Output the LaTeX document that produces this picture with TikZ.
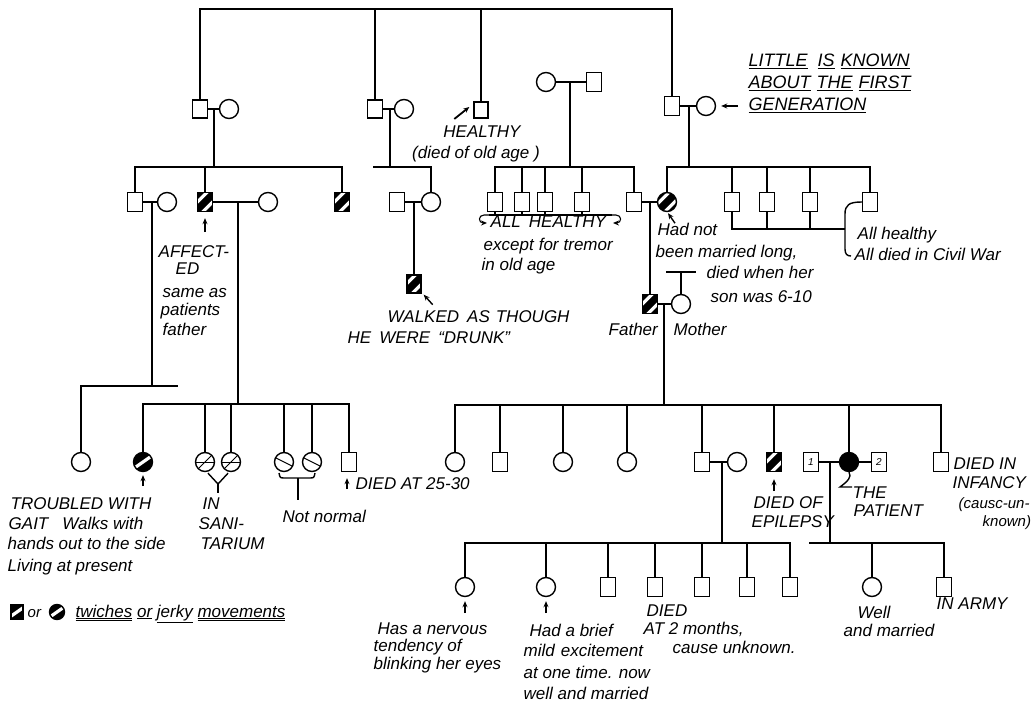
\documentclass[tikz,border=0pt]{standalone}
\usepackage{fontspec}
\setmainfont{Liberation Sans}
\usetikzlibrary{arrows.meta,calc}
\newcommand{\lab}{\fontsize{17}{20}\selectfont\itshape}
\newcommand{\labs}{\fontsize{15}{18}\selectfont\itshape}
\newcommand{\labn}{\fontsize{10}{10}\selectfont\itshape}
\begin{document}
\begin{tikzpicture}[x=1pt,y=-1pt,line width=1.4pt,
 sq/.style={draw,rectangle,inner sep=0pt,minimum width=15pt,minimum height=19pt},
 ci/.style={draw,circle,inner sep=0pt,minimum size=19pt},
 st2/.style={path picture={
  \fill[black] (path picture bounding box.south west) rectangle (path picture bounding box.north east);
  \draw[white,line width=3.2pt] ([shift={(3.8pt,-3.8pt)}]path picture bounding box.center) ++(-20pt,-20pt) -- ++(40pt,40pt);
  \draw[white,line width=3.2pt] ([shift={(-3.8pt,3.8pt)}]path picture bounding box.center) ++(-20pt,-20pt) -- ++(40pt,40pt);}},
 st1/.style={path picture={
  \fill[black] (path picture bounding box.south west) rectangle (path picture bounding box.north east);
  \draw[white,line width=3.2pt] (path picture bounding box.center) ++(-20pt,-14pt) -- ++(40pt,28pt);}},
 sani/.style={ci,path picture={
  \draw[line width=1pt] (path picture bounding box.west) -- (path picture bounding box.east);
  \draw[line width=1pt] (path picture bounding box.center) ++(-8pt,-8pt) -- ++(16pt,16pt);}},
 nn/.style={ci,path picture={
  \draw[line width=1.1pt] (path picture bounding box.center) ++(-10pt,5pt) -- ++(20pt,-10pt);}},
 arr/.style={-{Stealth[length=6pt,width=5pt]}},
 lb/.style={anchor=base west,inner sep=0pt,font=\lab},
 lbc/.style={anchor=base,inner sep=0pt,font=\lab},
]
\useasboundingbox[fill=white] (0,0) rectangle (1031,703);

% ---------- generation 2 ----------
\node[sq,minimum height=18pt] (A1) at (200,109) {};
\node[ci] (A2) at (229,109) {};
\node[sq,minimum height=18pt] (B1) at (375,109) {};
\node[ci] (B2) at (404,109) {};
\node[sq,minimum width=14pt,minimum height=16pt] (H) at (481,110) {};
\node[ci] (D1) at (546,82) {};
\node[sq] (D2) at (594,82) {};
\node[sq] (E1) at (672,106) {};
\node[ci] (E2) at (706,106) {};

\coordinate (T) at (0,9);
\draw (A1.north) |- (E1.north |- T) -- (E1.north);
\draw (B1.north) -- (B1.north |- T);
\draw (H.north) -- (H.north |- T);

\draw (A1) -- (A2);
\draw (B1) -- (B2);
\draw (D1) -- (D2);
\draw (E1) -- (E2);
\coordinate (mA) at (214,109);
\coordinate (mB) at (390,109);
\coordinate (mD) at (570,82);
\coordinate (mE) at (689,106);

% ---------- generation 3 ----------
\coordinate (S3) at (0,167);
\node[sq] (C1) at (135,202) {};
\node[ci] (C2) at (167,202) {};
\node[sq,st2] (C3) at (205,202) {};
\node[ci] (C4) at (268,202) {};
\node[sq,st2] (C5) at (342,202) {};
\draw (C1.north) |- (C5.north |- S3) -- (C5.north);
\draw (C3.north) -- (C3.north |- S3);
\draw (mA) -- (mA |- S3);
\draw (C1) -- (C2);
\draw (C3) -- (C4);

\node[sq] (G1) at (397,202) {};
\node[ci] (G2) at (431,202) {};
\coordinate (sBl) at (373,167);
\draw (sBl) -- (G2.north |- S3) -- (G2.north);
\draw (mB) -- (mB |- S3);
\draw (G1) -- (G2);

\node[sq] (K1) at (495,202) {};
\node[sq] (K2) at (522,202) {};
\node[sq] (K3) at (545,202) {};
\node[sq] (K4) at (582,202) {};
\node[sq] (K5) at (634,202) {};
\node[ci,st2] (P) at (667,202) {};
\draw (K1.north) |- (K5.north |- S3) -- (K5.north);
\foreach \k in {K2,K3,K4} \draw (\k.north) -- (\k.north |- S3);
\draw (mD) -- (mD |- S3);
\draw (K5) -- (P);

\node[sq] (R1) at (732,202) {};
\node[sq] (R2) at (767,202) {};
\node[sq] (R3) at (810,202) {};
\node[sq] (R4) at (870,202) {};
\draw (P.north) |- (R4.north |- S3) -- (R4.north);
\foreach \k in {R1,R2,R3} \draw (\k.north) -- (\k.north |- S3);
\draw (mE) -- (mE |- S3);

% ALL HEALTHY bracket
\coordinate (bAH) at (0,215);
\foreach \k in {K1,K2,K3,K4} \draw (\k.south) -- (\k.south |- bAH);
\coordinate (ahL) at (489,215);
\coordinate (ahR) at (612,215);
\draw (ahL) -- (ahR);
\draw[arr,line width=1.1pt] (ahL) -- (484,215) .. controls (478,215) and (478,223) .. (487,223);
\draw[arr,line width=1.1pt] (ahR) -- (616,215) .. controls (622,215) and (622,223) .. (613,223);

% brace under right brothers
\coordinate (bRe) at (845,229);
\draw (R1.south) |- (bRe);
\draw (R2.south) -- (R2.south |- bRe);
\draw (R3.south) -- (R3.south |- bRe);
\draw (bRe) -- (845,214) .. controls (845,205) and (849,202) .. (R4.west);
\draw (bRe) -- (845,249) .. controls (845,254) and (847,256) .. (851,256);

% walked as though drunk
\coordinate (mG) at (414,202);
\node[sq,st2,minimum width=14pt,minimum height=18pt] (W) at (414,284) {};
\draw (mG) -- (W.north);

% father / mother
\coordinate (mKP) at (650,202);
\node[sq,st2] (Fa) at (650,304) {};
\node[ci] (Mo) at (681,304) {};
\draw (mKP) -- (Fa.north);
\draw (Fa) -- (Mo);
\coordinate (tL) at (666,272);
\coordinate (tR) at (696,272);
\draw (tL) -- (tR);
\draw (Mo.north) -- (Mo.north |- tL);
\coordinate (mF) at (664,304);

% ---------- generation 4 (left) ----------
\coordinate (mC12) at (152,202);
\coordinate (mC34) at (238,202);
\coordinate (S4a) at (0,386);
\coordinate (S4aR) at (178,386);
\node[ci] (L1) at (81,462) {};
\draw (L1.north) |- (S4aR);
\draw (mC12) -- (mC12 |- S4a);
\coordinate (S4b) at (0,404);
\node[ci,st1] (L2) at (143,462) {};
\node[sani] (L3) at (205,462) {};
\node[sani] (L4) at (231,462) {};
\node[nn] (L5) at (284,462) {};
\node[nn] (L6) at (312,462) {};
\node[sq] (L7) at (349,462) {};
\draw (L2.north) |- (L7.north |- S4b) -- (L7.north);
\foreach \k in {L3,L4,L5,L6} \draw (\k.north) -- (\k.north |- S4b);
\draw (mC34) -- (mC34 |- S4b);

\coordinate (Yc) at (218,484);
\coordinate (Yb) at (218,493);
\draw ([shift={(3pt,-1pt)}]L3.south) -- (Yc) -- ([shift={(-3pt,-1pt)}]L4.south);
\draw (Yc) -- (Yb);
\coordinate (nnM) at (298,478);
\coordinate (nnB) at (298,500);
\draw (279,473) .. controls (280,478) .. (285,478) -- (309,478) .. controls (314,478) .. (315,473);
\draw (nnM) -- (nnB);

% ---------- generation 4 (right) ----------
\coordinate (S4c) at (0,405);
\node[ci] (M1) at (455,462) {};
\node[sq] (M2) at (500,462) {};
\node[ci] (M3) at (563,462) {};
\node[ci] (M4) at (627,462) {};
\node[sq] (M5) at (702,462) {};
\node[ci] (M6) at (737,462) {};
\node[sq,st2] (M7) at (774,462) {};
\node[sq,font=\labn] (N1) at (811,462) {1};
\node[ci,fill=black] (PT) at (849,462) {};
\node[sq,font=\labn] (N2) at (879,462) {2};
\node[sq] (M8) at (941,462) {};
\draw (M1.north) |- (M8.north |- S4c) -- (M8.north);
\foreach \k in {M2,M3,M4,M5,M7,PT} \draw (\k.north) -- (\k.north |- S4c);
\draw (mF) -- (mF |- S4c);
\draw (M5) -- (M6);
\draw (N1) -- (PT);
\draw (PT) -- (N2);
\coordinate (mM) at (722,462);
\coordinate (mN) at (830,462);
\draw (PT.south) .. controls (852,477) and (848,481) .. (840,487) -- (852,487);

% ---------- generation 5 ----------
\coordinate (S5) at (0,543);
\node[ci] (Q1) at (465,587) {};
\node[ci] (Q2) at (546,587) {};
\node[sq] (Q3) at (608,587) {};
\node[sq] (Q4) at (655,587) {};
\node[sq] (Q5) at (702,587) {};
\node[sq] (Q6) at (747,587) {};
\node[sq] (Q7) at (790,587) {};
\draw (Q1.north) |- (Q7.north |- S5) -- (Q7.north);
\foreach \k in {Q2,Q3,Q4,Q5,Q6} \draw (\k.north) -- (\k.north |- S5);
\draw (mM) -- (mM |- S5);
\coordinate (sVl) at (809,543);
\node[ci] (V1) at (872,587) {};
\node[sq] (V2) at (944,587) {};
\draw (sVl) -- (V2.north |- S5) -- (V2.north);
\draw (V1.north) -- (V1.north |- S5);
\draw (mN) -- (mN |- S5);

% ---------- arrows ----------
\draw[arr] ([yshift=-20pt]C3.south) -- ([yshift=-6pt]C3.south);
\draw[arr,line width=1.8pt] ([shift={(-19pt,-9pt)}]H.west) -- ([shift={(-4pt,3pt)}]H.west);
\draw[arr] ([shift={(11pt,-11pt)}]W.south east) -- ([shift={(2pt,-1pt)}]W.south east);
\draw[arr] ([shift={(8pt,-11pt)}]P.south) -- ([shift={(1pt,-1pt)}]P.south);
\draw[arr] ([xshift=22pt]E2.east) -- ([xshift=5pt]E2.east);
\draw[arr] ([yshift=-14pt]L2.south) -- ([yshift=-3pt]L2.south);
\draw[arr] ([shift={(-2pt,-17pt)}]L7.south) -- ([shift={(-2pt,-6pt)}]L7.south);
\draw[arr] ([yshift=-19pt]M7.south) -- ([yshift=-7pt]M7.south);
\draw[arr] ([yshift=-16pt]Q1.south) -- ([yshift=-4pt]Q1.south);
\draw[arr] ([yshift=-16pt]Q2.south) -- ([yshift=-4pt]Q2.south);

% ---------- texts ----------
\node[lb,font=\fontsize{18}{21}\selectfont\itshape] (t1) at (748,67) {\underline{LITTLE}\hspace{10pt}\underline{IS}\hspace{6pt}\underline{KNOWN}};
\node[lb,font=\fontsize{18}{21}\selectfont\itshape] (t2) at (748,89) {\underline{ABOUT}\hspace{6pt}\underline{THE}\hspace{6pt}\underline{FIRST}};
\node[lb,font=\fontsize{18}{21}\selectfont\itshape] (t3) at (748,111) {\underline{GENERATION}};
\node[lbc] (t4) at (482,138) {HEALTHY};
\node[lbc] (t5) at (476,159) {(died of old age )};
\node[lb] (t6) at (158,258) {AFFECT-};
\node[lb] (t7) at (175,275) {ED};
\node[lb] (t8) at (162,298) {same as};
\node[lb] (t9) at (160,316) {patients};
\node[lb] (t10) at (162,336) {father};
\node[lb] (t11) at (387,323) {WALKED\hspace{8pt}AS\hspace{6pt}THOUGH};
\node[lb] (t12) at (347,344) {HE\hspace{8pt}WERE\hspace{8pt}``DRUNK''};
\node[lb] (t13) at (490,228) {ALL\hspace{8pt}HEALTHY};
\node[lb] (t14) at (483,251) {except\hspace{5pt}for\hspace{5pt}tremor};
\node[lb] (t15) at (481,271) {in old age};
\node[lb] (t16) at (657,236) {Had not};
\node[lb] (t17) at (655,258) {been married long,};
\node[lb] (t18) at (706,279) {died when her};
\node[lb] (t19) at (710,303) {son was 6-10};
\node[lb] (t20) at (857,240) {All healthy};
\node[lb] (t21) at (854,261) {All died in Civil War};
\node[lb] (t22) at (608,336) {Father};
\node[lb] (t23) at (673,336) {Mother};
\node[lb] (t24) at (10,509) {TROUBLED WITH};
\node[lb] (t25) at (8,529) {GAIT\hspace{14pt}Walks with};
\node[lb] (t26) at (7,549) {hands out to the side};
\node[lb] (t27) at (7,571) {Living at present};
\node[lb] (t28) at (202,509) {IN};
\node[lb] (t29) at (198,529) {SANI-};
\node[lb] (t30) at (200,549) {TARIUM};
\node[lb] (t31) at (282,522) {Not normal};
\node[lb] (t32) at (355,489) {DIED AT 25-30};
\node[sq,st1,minimum width=12pt,minimum height=15pt] (lgS) at (17,612) {};
\node[lb,font=\labs] (lgOr) at (27,617) {or};
\node[ci,st1,minimum size=15pt] (lgC) at (57,612) {};
\node[lb] (lgT) at (75,617) {\underline{\underline{twiches}} \underline{or} \underline{jerky} \underline{\underline{movements}}};
\node[lb] (t33) at (377,634) {Has a nervous};
\node[lb] (t34) at (373,651) {tendency of};
\node[lb] (t35) at (373,669) {blinking her eyes};
\node[lb] (t36) at (529,636) {Had a brief};
\node[lb] (t37) at (523,656) {mild\hspace{6pt}excitement};
\node[lb] (t38) at (523,678) {at one time. now};
\node[lb] (t39) at (523,699) {well and married};
\node[lb] (t40) at (646,616) {DIED};
\node[lb] (t41) at (643,634) {AT 2 months,};
\node[lb] (t42) at (672,653) {cause unknown.};
\node[lb] (t43) at (753,508) {DIED OF};
\node[lb] (t44) at (751,527) {EPILEPSY};
\node[lb] (t45) at (852,498) {THE};
\node[lb] (t46) at (853,516) {PATIENT};
\node[lb] (t47) at (953,469) {DIED IN};
\node[lb] (t48) at (952,488) {INFANCY};
\node[lb,font=\labs] (t49) at (958,508) {(causc-un-};
\node[lb,font=\labs] (t50) at (982,526) {known)};
\node[lb] (t51) at (857,618) {Well};
\node[lb] (t52) at (843,636) {and married};
\node[lb] (t53) at (936,609) {IN ARMY};
\end{tikzpicture}
\end{document}
